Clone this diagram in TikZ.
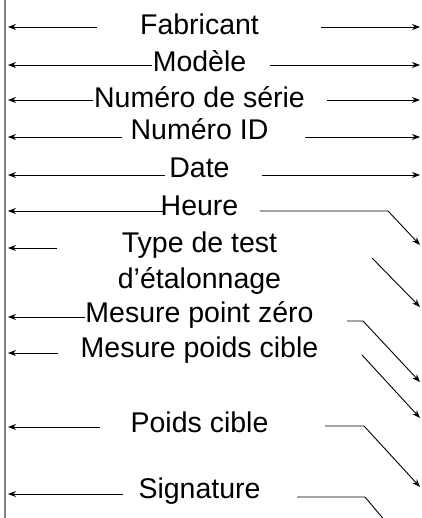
\documentclass[tikz,border=0pt]{standalone}
\usepackage{fontspec}
\setmainfont{Liberation Sans}
\usetikzlibrary{arrows.meta}

\begin{document}
\begin{tikzpicture}[
        x=1pt, y=-1pt,
        >={Stealth[length=8pt,width=6pt]},
        field/.style={anchor=base, inner sep=0pt, align=center,
            font=\fontsize{28.5}{36}\selectfont},
        lead/.style={->, line width=0.9pt}
    ]
    \useasboundingbox (0,0) rectangle (421,518);
    \coordinate (wallT) at (5,0);
    \coordinate (wallB) at (5,518);
    \coordinate (edge) at (420,0);
    \draw[gray, line width=1.3pt] (wallT) -- (wallB);

    \node[field] (fab) at (199.5,35) {Fabricant};
    \node[field] (mod) at (199.5,72) {Modèle};
    \node[field] (ser) at (199.5,108) {Numéro de série};
    \node[field] (id) at (199.5,140) {Numéro ID};
    \node[field] (date) at (199.5,178) {Date};
    \node[field] (heure) at (199.5,215) {Heure};
    \node[field] (type) at (199.5,288) {Type de test\\d'étalonnage};
    \node[field] (zero) at (199.5,322) {Mesure point zéro};
    \node[field] (mesure) at (199.5,357) {Mesure poids cible};
    \node[field] (poids) at (199.5,432) {Poids cible};
    \node[field] (sig) at (199.5,498) {Signature};

    % fleches vers la gauche
    \foreach \n/\y/\a in {fab/27/97, mod/65/152, ser/100/93, id/137/122, date/175/165,
            heure/211/163, type/248/57, zero/317/85, mesure/353/58, poids/427/100, sig/494/123}{
        \coordinate (\n-l) at (\a,\y);
        \draw[lead, shorten >=3pt] (\n-l) -- (\n-l -| wallT);
    }

    % fleches vers la droite
    \foreach \n/\y/\b in {fab/27/321, mod/65/270, ser/100/327, id/137/305, date/175/262}{
        \coordinate (\n-r) at (\b,\y);
        \draw[lead] (\n-r) -- (\n-r -| edge);
    }
    \coordinate (heure-r) at (260,211);
    \coordinate (heure-e) at (420,245);
    \draw[lead] (heure-r) -- (388,211) -- (heure-e);
    \coordinate (type-r) at (372,258);
    \coordinate (type-e) at (420,307);
    \draw[lead] (type-r) -- (type-e);
    \coordinate (zero-r) at (347,321);
    \coordinate (zero-e) at (420,382);
    \draw[lead] (zero-r) -- (363,321) -- (zero-e);
    \coordinate (mesure-r) at (362,355);
    \coordinate (mesure-e) at (420,418);
    \draw[lead] (mesure-r) -- (mesure-e);
    \coordinate (poids-r) at (325,426);
    \coordinate (poids-e) at (420,487);
    \draw[lead] (poids-r) -- (364,426) -- (poids-e);
    \coordinate (sig-r) at (297,497);
    \coordinate (sig-e) at (386,522);
    \draw[line width=0.9pt] (sig-r) -- (365,497) -- (sig-e);
\end{tikzpicture}
\end{document}
